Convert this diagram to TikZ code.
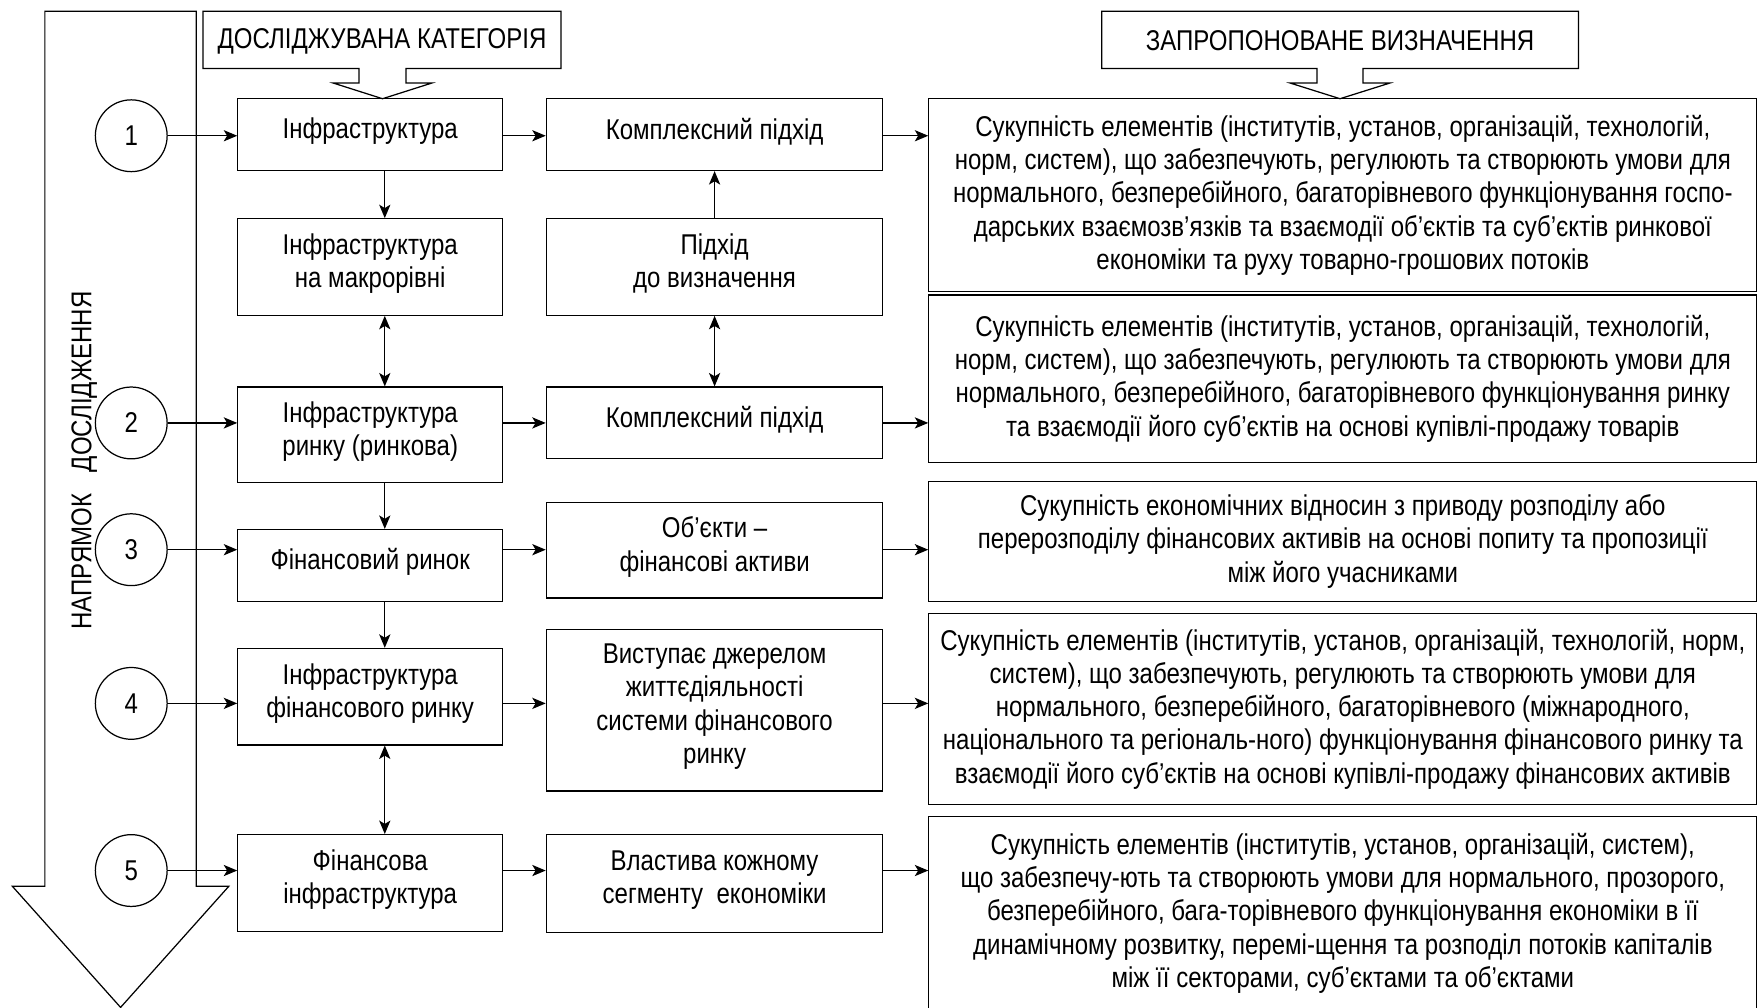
\documentclass[tikz,border=0pt]{standalone}
\usepackage{fontspec}
\setmainfont{Liberation Sans}[FakeStretch=0.84]
\usetikzlibrary{arrows.meta}
\begin{document}
\begin{tikzpicture}[x=1pt,y=-1pt,line width=1.1pt,
  every node/.style={font=\fontsize{25.5pt}{29.7pt}\selectfont},
  box/.style={draw,inner sep=0pt,align=center},
  txt/.style={inner sep=0pt,align=center},
  circ/.style={draw,circle,inner sep=0pt,minimum size=64pt},
  arr/.style={-{Stealth[length=12pt,width=10pt,inset=3pt]}},
  darr/.style={{Stealth[length=12pt,width=10pt,inset=3pt]}-{Stealth[length=12pt,width=10pt,inset=3pt]}}]
\clip (0,0) rectangle (1568,898);
\fill[white] (0,0) rectangle (1568,898);
% big direction arrow
\draw (40,10) -- (175,10) -- (175,790) -- (204,790) -- (107.5,898) -- (11,790) -- (40,790) -- cycle;
\node[rotate=90] (dir) at (75,410.5) {НАПРЯМОК\hspace{19pt}ДОСЛІДЖЕННЯ};
% callouts
\draw (181,10) -- (500,10) -- (500,61) -- (362,61) -- (362,74) -- (385,74) -- (341,88) -- (297,74) -- (320,74) -- (320,61) -- (181,61) -- cycle;
\node[txt] (h1) at (340.5,36.5) {ДОСЛІДЖУВАНА КАТЕГОРІЯ};
\draw (982,10) -- (1407,10) -- (1407,61) -- (1215,61) -- (1215,74) -- (1239,74) -- (1194.5,88) -- (1150,74) -- (1174,74) -- (1174,61) -- (982,61) -- cycle;
\node[txt] (h2) at (1194.5,36.5) {ЗАПРОПОНОВАНЕ ВИЗНАЧЕННЯ};
% circles
\node[circ] (c1) at (117,121) {1};
\node[circ] (c2) at (117,377) {2};
\node[circ] (c3) at (117,490) {3};
\node[circ] (c4) at (117,627) {4};
\node[circ] (c5) at (117,776) {5};
% column A
\node[box,minimum width=236pt,minimum height=64pt] (a1) at (330,120) {};
\node[box,minimum width=236pt,minimum height=86pt] (a2) at (330,238) {};
\node[box,minimum width=236pt,minimum height=85pt] (a3) at (330,387.5) {};
\node[box,minimum width=236pt,minimum height=64pt] (a4) at (330,504) {};
\node[box,minimum width=236pt,minimum height=86pt] (a5) at (330,621) {};
\node[box,minimum width=236pt,minimum height=86pt] (a6) at (330,787) {};
\node[txt] (a1t) at ([yshift=3pt]a1.center) {Інфраструктура};
\node[txt] (a2t) at ([yshift=3pt]a2.center) {Інфраструктура\\на макрорівні};
\node[txt] (a3t) at ([yshift=3pt]a3.center) {Інфраструктура\\ринку (ринкова)};
\node[txt] (a4t) at ([yshift=3pt]a4.center) {Фінансовий ринок};
\node[txt] (a5t) at ([yshift=3pt]a5.center) {Інфраструктура\\фінансового ринку};
\node[txt] (a6t) at ([yshift=3pt]a6.center) {Фінансова\\інфраструктура};
% column B
\node[box,minimum width=300pt,minimum height=64pt] (b1) at (637,120) {};
\node[box,minimum width=300pt,minimum height=86pt] (b2) at (637,238) {};
\node[box,minimum width=300pt,minimum height=64pt] (b3) at (637,377) {};
\node[box,minimum width=300pt,minimum height=85pt] (b4) at (637,490.5) {};
\node[box,minimum width=300pt,minimum height=144pt] (b5) at (637,633) {};
\node[box,minimum width=300pt,minimum height=87pt] (b6) at (637,787.5) {};
\node[txt] (b1t) at ([yshift=3pt]b1.center) {Комплексний підхід};
\node[txt] (b2t) at ([yshift=3pt]b2.center) {Підхід\\до визначення};
\node[txt] (b3t) at ([yshift=3pt]b3.center) {Комплексний підхід};
\node[txt] (b4t) at ([yshift=3pt]b4.center) {Об’єкти –\\фінансові активи};
\node[txt] (b5t) at ([yshift=3pt]b5.center) {Виступає джерелом\\життєдіяльності\\системи фінансового\\ринку};
\node[txt] (b6t) at ([yshift=3pt]b6.center) {Властива кожному\\сегменту\ \ економіки};
% column C
\node[box,minimum width=738pt,minimum height=172pt] (k1) at (1197,174) {};
\node[box,minimum width=738pt,minimum height=149pt] (k2) at (1197,337.5) {};
\node[box,minimum width=738pt,minimum height=107pt] (k3) at (1197,482.5) {};
\node[box,minimum width=738pt,minimum height=170pt] (k4) at (1197,632) {};
\node[box,minimum width=738pt,minimum height=172pt] (k5) at (1197,814) {};
\node[txt] (k1t) at (k1.center) {Сукупність елементів (інститутів, установ, організацій, технологій,\\норм, систем), що забезпечують, регулюють та створюють умови для\\нормального, безперебійного, багаторівневого функціонування госпо-\\дарських взаємозв’язків та взаємодії об’єктів та суб’єктів ринкової\\економіки та руху товарно-грошових потоків};
\node[txt] (k2t) at (k2.center) {Сукупність елементів (інститутів, установ, організацій, технологій,\\норм, систем), що забезпечують, регулюють та створюють умови для\\нормального, безперебійного, багаторівневого функціонування ринку\\та взаємодії його суб’єктів на основі купівлі-продажу товарів};
\node[txt] (k3t) at (k3.center) {Сукупність економічних відносин з приводу розподілу або\\перерозподілу фінансових активів на основі попиту та пропозиції\\між його учасниками};
\node[txt] (k4t) at (k4.center) {Сукупність елементів (інститутів, установ, організацій, технологій, норм,\\систем), що забезпечують, регулюють та створюють умови для\\нормального, безперебійного, багаторівневого (міжнародного,\\національного та регіональ-ного) функціонування фінансового ринку та\\взаємодії його суб’єктів на основі купівлі-продажу фінансових активів};
\node[txt] (k5t) at (k5.center) {Сукупність елементів (інститутів, установ, організацій, систем),\\що забезпечу-ють та створюють умови для нормального, прозорого,\\безперебійного, бага-торівневого функціонування економіки в її\\динамічному розвитку, перемі-щення та розподіл потоків капіталів\\між її секторами, суб’єктами та об’єктами};
% horizontal arrows
\foreach \c/\a/\b/\k in {c1/a1/b1/k1,c2/a3/b3/k2,c3/a4/b4/k3,c4/a5/b5/k4,c5/a6/b6/k5}{
  \draw[arr] (\c.east) -- (\a.west |- \c.center);
  \draw[arr] (\a.east |- \c.center) -- (\b.west |- \c.center);
  \draw[arr] (\b.east |- \c.center) -- (\k.west |- \c.center);
}
% vertical arrows
\coordinate (vx) at (343,0);
\draw[arr] (a1.south -| vx) -- (a2.north -| vx);
\draw[darr] (a2.south -| vx) -- (a3.north -| vx);
\draw[arr] (a3.south -| vx) -- (a4.north -| vx);
\draw[arr] (a4.south -| vx) -- (a5.north -| vx);
\draw[darr] (a5.south -| vx) -- (a6.north -| vx);
\draw[arr] (b2.north) -- (b1.south);
\draw[darr] (b2.south) -- (b3.north);
\end{tikzpicture}
\end{document}
